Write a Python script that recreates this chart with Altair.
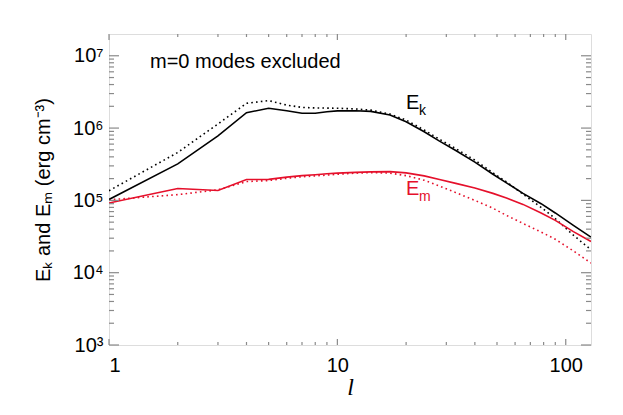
import altair as alt
import pandas as pd

# ---- data ----
l_vals = [1, 2, 3, 4, 5, 6, 7, 8, 9, 10, 12, 14, 17, 20, 24, 28, 33, 40, 48, 55, 65, 78, 90, 108, 129]
ek_solid = [1.03e5, 3.2e5, 7.8e5, 1.63e6, 1.88e6, 1.74e6, 1.60e6, 1.60e6, 1.68e6, 1.73e6,
            1.74e6, 1.70e6, 1.52e6, 1.22e6, 8.9e5, 6.6e5, 4.9e5, 3.38e5, 2.3e5, 1.75e5,
            1.25e5, 9.0e4, 6.7e4, 4.5e4, 3.1e4]
ek_dotted = [1.36e5, 4.6e5, 1.14e6, 2.2e6, 2.4e6, 2.08e6, 1.93e6, 1.90e6, 1.89e6, 1.88e6,
             1.84e6, 1.77e6, 1.56e6, 1.29e6, 9.4e5, 7.0e5, 5.2e5, 3.6e5, 2.4e5, 1.8e5,
             1.22e5, 8.0e4, 5.6e4, 3.3e4, 2.08e4]
em_solid = [9.2e4, 1.46e5, 1.37e5, 1.94e5, 1.95e5, 2.1e5, 2.2e5, 2.26e5, 2.33e5, 2.38e5,
            2.44e5, 2.48e5, 2.5e5, 2.4e5, 2.18e5, 1.95e5, 1.72e5, 1.48e5, 1.25e5, 1.08e5,
            8.8e4, 6.7e4, 5.3e4, 3.7e4, 2.7e4]
em_dotted = [1.02e5, 1.2e5, 1.4e5, 1.82e5, 1.88e5, 2.02e5, 2.12e5, 2.18e5, 2.24e5, 2.3e5,
             2.38e5, 2.42e5, 2.38e5, 2.2e5, 1.9e5, 1.58e5, 1.28e5, 1.0e5, 7.8e4, 6.2e4,
             4.8e4, 3.65e4, 2.9e4, 2.0e4, 1.36e4]

series_names = ["Ek solid", "Ek dotted", "Em solid", "Em dotted"]
series_vals = [ek_solid, ek_dotted, em_solid, em_dotted]

x_major = [1, 10, 100]
x_minor = [2, 3, 4, 5, 6, 7, 8, 9, 20, 30, 40, 50, 60, 70, 80, 90]
y_major = [1e3, 1e4, 1e5, 1e6, 1e7]
y_minor = [k * 10 ** e for e in range(3, 7) for k in range(2, 10)]

ann_main = ["E", "E"]
ann_sub = ["k", "m"]
ann_l = [20.0, 20.0]
ann_E = [1.82e6, 1.18e5]
ann_color = ["black", "#e5102b"]

note_text = "m=0 modes excluded"

# ---- build tables ----
rows = []
for name, vals in zip(series_names, series_vals):
    for l, v in zip(l_vals, vals):
        rows.append({"l": l, "E": v, "series": name})
df = pd.DataFrame(rows)
ann_df = pd.DataFrame({"main": ann_main, "sub": ann_sub, "l": ann_l, "E": ann_E, "color": ann_color})

W, H = 482, 311
GRAY = "#8a8a8a"
RED = "#e5102b"
FONT = "Liberation Sans"

xscale = alt.Scale(type="log", domain=[1, 129], nice=False)
yscale = alt.Scale(type="log", domain=[1e3, 2e7], nice=False)

sup_expr = ("'10' + ['\u2070','\u00b9','\u00b2','\u00b3','\u2074','\u2075','\u2076','\u2077','\u2078','\u2079']"
            "[round(log(datum.value)/LN10)]")

main_x_axis = alt.Axis(values=x_major, format="d", orient="bottom", domain=False, ticks=False, grid=False,
                       labelFont=FONT, labelFontSize=20, labelColor="black", labelPadding=10,
                       title="l", titleFont="Liberation Serif", titleFontStyle="italic", titleFontWeight="normal",
                       titleFontSize=24, titleColor="black", titleX=W / 2, titleY=42,
                       titleAlign="center", titleBaseline="middle")
main_y_axis = alt.Axis(values=y_major, labelExpr=sup_expr, orient="left", domain=False, ticks=False, grid=False,
                       labelFont=FONT, labelFontSize=20, labelColor="black", labelPadding=6,
                       title="E\u2096 and E\u2098 (erg cm\u207b\u00b3)", titleFont=FONT, titleFontSize=20,
                       titleFontWeight="normal", titleColor="black", titleX=-66, titleY=H / 2,
                       titleAngle=270, titleAlign="center", titleBaseline="middle")


def line_layer(name, color, dashed, with_axes):
    xa = main_x_axis if with_axes else None
    ya = main_y_axis if with_axes else None
    mk = dict(color=color, strokeWidth=1.6, clip=True)
    if dashed:
        mk["strokeDash"] = [1.6, 3.2]
    return alt.Chart(df).transform_filter(alt.datum.series == name).mark_line(**mk).encode(
        x=alt.X("l:Q", scale=xscale, axis=xa),
        y=alt.Y("E:Q", scale=yscale, axis=ya),
    )


def xtick_layer(values, y_from, y_to):
    return alt.Chart(pd.DataFrame({"v": values})).mark_rule(color=GRAY, strokeWidth=1.2).encode(
        x=alt.X("v:Q", scale=xscale, axis=None),
        y=alt.value(y_from), y2=alt.value(y_to),
    )


def ytick_layer(values, x_from, x_to):
    return alt.Chart(pd.DataFrame({"v": values})).mark_rule(color=GRAY, strokeWidth=1.2).encode(
        y=alt.Y("v:Q", scale=yscale, axis=None),
        x=alt.value(x_from), x2=alt.value(x_to),
    )


tick_layers = [
    xtick_layer(x_major, H, H - 6), xtick_layer(x_minor, H, H - 3),
    xtick_layer(x_major, 0, 6), xtick_layer(x_minor, 0, 3),
    ytick_layer(y_major, 0, 10), ytick_layer(y_minor, 0, 5),
    ytick_layer(y_major, W, W - 10), ytick_layer(y_minor, W, W - 5),
]

line_layers = [
    line_layer("Em dotted", RED, True, True),
    line_layer("Ek dotted", "black", True, False),
    line_layer("Em solid", RED, False, False),
    line_layer("Ek solid", "black", False, False),
]

ann_main_layer = alt.Chart(ann_df).mark_text(align="left", baseline="alphabetic", font=FONT, fontSize=20).encode(
    x=alt.X("l:Q", scale=xscale, axis=None),
    y=alt.Y("E:Q", scale=yscale, axis=None),
    text="main:N",
    color=alt.Color("color:N", scale=None),
)
ann_sub_layer = alt.Chart(ann_df).mark_text(align="left", baseline="alphabetic", font=FONT, fontSize=14,
                                            dx=13, dy=6).encode(
    x=alt.X("l:Q", scale=xscale, axis=None),
    y=alt.Y("E:Q", scale=yscale, axis=None),
    text="sub:N",
    color=alt.Color("color:N", scale=None),
)
note_layer = alt.Chart(pd.DataFrame({"t": [note_text]})).mark_text(
    align="left", baseline="middle", font=FONT, fontSize=20, color="black"
).encode(x=alt.value(41), y=alt.value(28), text="t:N")

chart = alt.layer(*line_layers, *tick_layers, ann_main_layer, ann_sub_layer, note_layer).resolve_axis(
    x="independent", y="independent"
).properties(
    width=W, height=H,
    autosize=alt.AutoSizeParams(type="none"),
    padding={"left": 101, "top": 26, "right": 24, "bottom": 54},
).configure_view(stroke=GRAY, strokeWidth=1.5).configure(background="white")

chart.save("out.html", embed_options={"renderer": "svg", "actions": False})
